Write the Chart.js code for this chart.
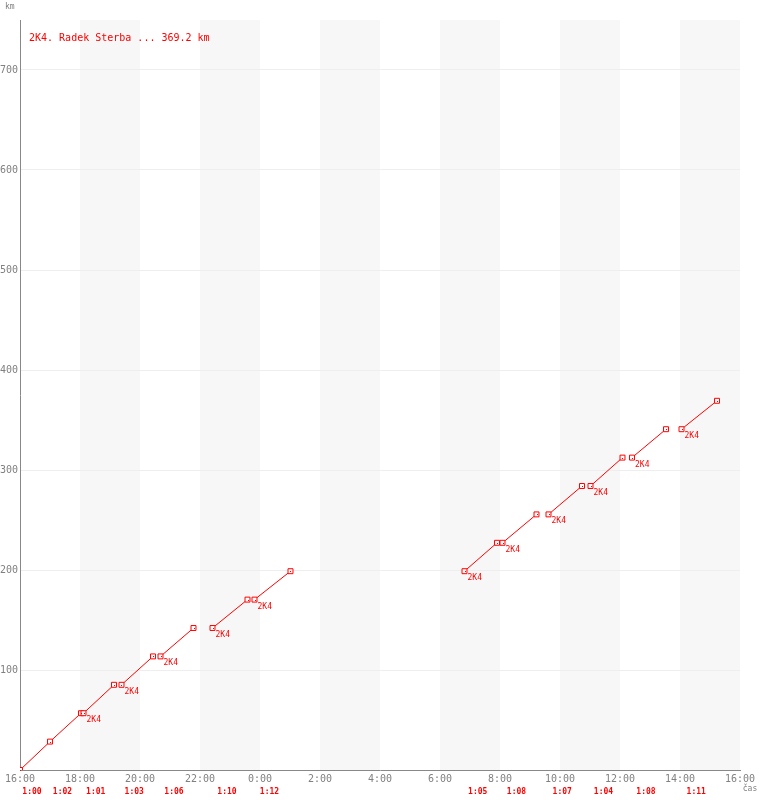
<!DOCTYPE html>
<html>
<head>
<meta charset="utf-8">
<title>2K4 Radek Sterba</title>
<script src="https://cdn.jsdelivr.net/npm/chart.js@4"></script>
<style>
  body { margin: 0; background: #fff; }
  canvas { display: block; }
</style>
</head>
<body>
<canvas id="lapChart" width="760" height="800"></canvas>
<script>
// lap start (clock time), lap duration and cumulative km at lap ends
const lapStart = ["16:00", "17:00", "18:07", "19:23", "20:41", "22:25", "23:49",
                  "6:49", "8:05", "9:37", "11:01", "12:24", "14:03"];
const lapTime = ["1:00", "1:02", "1:01", "1:03", "1:06", "1:10", "1:12",
                 "1:05", "1:08", "1:07", "1:04", "1:08", "1:11"];
const distKm = [0, 28.4, 56.8, 85.2, 113.6, 142.0, 170.4, 198.8,
                227.2, 255.6, 284.0, 312.4, 340.8, 369.2];
const hourTicks = [0, 2, 4, 6, 8, 10, 12, 14, 16, 18, 20, 22, 24];
const kmTicks = [100, 200, 300, 400, 500, 600, 700];
const shadedBands = [[2, 4], [6, 8], [10, 12], [14, 16], [18, 20], [22, 24]];
const runnerCode = "2K4";
const titleText = "2K4. Radek Sterba ... 369.2 km";

const FONT = "'DejaVu Sans Mono', 'Liberation Mono', monospace";
const START_HOUR = 16;

function clockToHours(s) {
    const [h, m] = s.split(":").map(Number);
    let v = h + m / 60 - START_HOUR;
    if (v < 0) v += 24;
    return v;
}
function durToHours(s) {
    const [h, m] = s.split(":").map(Number);
    return h + m / 60;
}

// build the line points, breaking the line at every pause
const points = [];
const labelPoints = [];
const lapMids = [];
let prevEnd = null;
lapStart.forEach((st, i) => {
    const x0 = clockToHours(st);
    const x1 = x0 + durToHours(lapTime[i]);
    if (prevEnd === null || Math.abs(x0 - prevEnd) > 0.01) {
        if (prevEnd !== null) {
            points.push({ x: (x0 + prevEnd) / 2, y: null });
            labelPoints.push({ x: x0, y: distKm[i] });
        }
        points.push({ x: x0, y: distKm[i] });
    }
    points.push({ x: x1, y: distKm[i + 1] });
    lapMids.push((x0 + x1) / 2);
    prevEnd = x1;
});

const backgroundBands = {
    id: "backgroundBands",
    beforeDraw(chart) {
        const { ctx, chartArea, scales } = chart;
        ctx.save();
        ctx.fillStyle = "#f7f7f7";
        shadedBands.forEach(b => {
            const a = scales.x.getPixelForValue(b[0]);
            const e = scales.x.getPixelForValue(b[1]);
            ctx.fillRect(a, chartArea.top, e - a, chartArea.bottom - chartArea.top);
        });
        ctx.restore();
    }
};

const annotations = {
    id: "annotations",
    afterDatasetsDraw(chart) {
        const { ctx, chartArea, scales } = chart;
        ctx.save();
        // center dots in the markers
        ctx.fillStyle = "#ff0000";
        points.forEach(p => {
            if (p.y === null) return;
            const px = Math.round(scales.x.getPixelForValue(p.x));
            const py = Math.round(scales.y.getPixelForValue(p.y));
            ctx.fillRect(px, py, 1, 1);
        });

        // runner code under each leg start
        ctx.font = "8px " + FONT;
        ctx.textAlign = "left";
        ctx.textBaseline = "top";
        labelPoints.forEach(p => {
            ctx.fillText(runnerCode, scales.x.getPixelForValue(p.x) + 3,
                         scales.y.getPixelForValue(p.y) + 3);
        });

        // lap times under the axis
        ctx.font = "bold 8px " + FONT;
        ctx.textAlign = "center";
        ctx.textBaseline = "middle";
        lapMids.forEach((m, i) => {
            ctx.fillText(lapTime[i], scales.x.getPixelForValue(m) - 3, chartArea.bottom + 22);
        });

        // title
        ctx.font = "10px " + FONT;
        ctx.textAlign = "left";
        ctx.fillText(titleText, chartArea.left + 9, chartArea.top + 18);

        // axis units
        ctx.fillStyle = "#808080";
        ctx.font = "8px " + FONT;
        ctx.fillText("km", 5, 7);
        ctx.textAlign = "center";
        ctx.fillText("čas", 750, chartArea.bottom + 19);
        ctx.restore();
    }
};

new Chart(document.getElementById("lapChart"), {
    type: "line",
    data: {
        datasets: [{
            data: points,
            borderColor: "#ff0000",
            borderWidth: 1,
            backgroundColor: "#ffffff",
            pointStyle: "rect",
            pointRadius: 3.5,
            pointBorderWidth: 1,
            pointBorderColor: "#ff0000",
            pointBackgroundColor: "#ffffff",
            spanGaps: false,
            tension: 0
        }]
    },
    options: {
        responsive: false,
        animation: false,
        devicePixelRatio: 1,
        layout: { padding: { top: 20, right: 20, left: 0, bottom: 0 } },
        plugins: {
            legend: { display: false },
            tooltip: { enabled: false }
        },
        scales: {
            x: {
                type: "linear",
                min: 0,
                max: 24,
                afterFit: s => { s.height = 30; },
                afterBuildTicks: s => { s.ticks = hourTicks.map(v => ({ value: v })); },
                ticks: {
                    autoSkip: false,
                    maxRotation: 0,
                    padding: 3,
                    color: "#808080",
                    font: { family: FONT, size: 10 },
                    callback: v => ((v + START_HOUR) % 24) + ":00"
                },
                grid: { display: false, drawTicks: false },
                border: { color: "#888888", width: 1 }
            },
            y: {
                type: "linear",
                min: 0,
                max: 750,
                afterFit: s => { s.width = 20; },
                afterBuildTicks: s => { s.ticks = kmTicks.map(v => ({ value: v })); },
                ticks: {
                    padding: 2,
                    color: "#808080",
                    font: { family: FONT, size: 10 }
                },
                grid: { color: "#eeeeee", drawTicks: false },
                border: { color: "#888888", width: 1 }
            }
        }
    },
    plugins: [backgroundBands, annotations]
});
</script>
</body>
</html>
